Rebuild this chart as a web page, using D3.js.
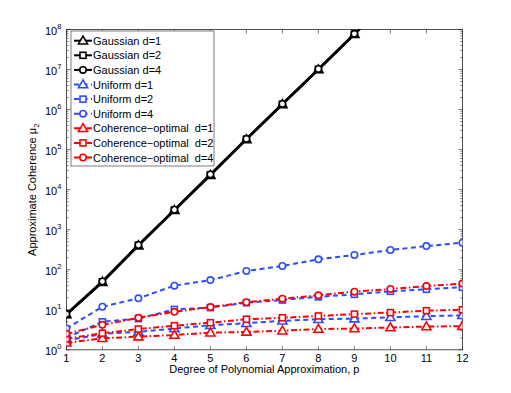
<!DOCTYPE html>
<html>
<head>
<meta charset="utf-8">
<script src="https://cdn.jsdelivr.net/npm/d3@7/dist/d3.min.js"></script>
<style>
body {margin: 0; background: #fff}
text {font-family: "Liberation Sans", Arial, Helvetica, sans-serif}
</style>
</head>
<body>
<div id="canvas"></div>
<script>
// Data
var degrees = [1, 2, 3, 4, 5, 6, 7, 8, 9, 10, 11, 12]
var gaussian_d1 = [7.6, 49, 400, 3050, 23000, 180000, 1.35e6, 1.0e7, 7.6e7, 5.8e8, 4.4e9, 3.3e10]
var gaussian_d2 = [7.7, 50, 410, 3100, 23500, 182000, 1.36e6, 1.01e7, 7.7e7, 5.9e8, 4.5e9, 3.4e10]
var gaussian_d4 = [7.8, 51, 415, 3150, 24000, 185000, 1.38e6, 1.03e7, 7.8e7, 6.0e8, 4.6e9, 3.5e10]
var uniform_d1 = [1.7, 2.5, 2.8, 3.4, 4.1, 4.6, 5.3, 5.8, 6.0, 6.5, 6.9, 7.3]
var uniform_d2 = [2.0, 5.0, 6.0, 10.2, 11.3, 15, 17.5, 21, 24.3, 28.9, 32.4, 36.5]
var uniform_d4 = [3.4, 11.9, 19.3, 40, 55, 93, 124, 182, 233, 311, 390, 473]
var coh_d1 = [1.5, 1.94, 2.13, 2.34, 2.67, 2.8, 3.0, 3.3, 3.4, 3.6, 3.8, 3.9]
var coh_d2 = [1.9, 2.6, 3.3, 4.0, 4.75, 5.8, 6.3, 7.0, 7.8, 8.5, 9.5, 10]
var coh_d4 = [2.5, 4.2, 6.3, 8.9, 11.7, 15.4, 18.9, 23, 28.3, 33, 39, 45]
var x_ticks = [1, 2, 3, 4, 5, 6, 7, 8, 9, 10, 11, 12]
var y_exponents = [0, 1, 2, 3, 4, 5, 6, 7, 8]

// Display variables
var total_width = 511, total_height = 393
var margin = {top: 29.5, left: 66.4}
var width = 396, height = 320.3
var blue = "#2b4cff", red = "#ff0000", black = "#000000"
var tick_len = 4

var series = [
    {name: "Gaussian d=1", values: gaussian_d1, colour: black, dash: null, marker: "triangle", lw: 2.4},
    {name: "Gaussian d=2", values: gaussian_d2, colour: black, dash: null, marker: "square", lw: 2.4},
    {name: "Gaussian d=4", values: gaussian_d4, colour: black, dash: null, marker: "circle", lw: 2.4},
    {name: "Uniform d=1", values: uniform_d1, colour: blue, dash: "5,3.5", marker: "triangle", lw: 2},
    {name: "Uniform d=2", values: uniform_d2, colour: blue, dash: "5,3.5", marker: "square", lw: 2},
    {name: "Uniform d=4", values: uniform_d4, colour: blue, dash: "5,3.5", marker: "circle", lw: 2},
    {name: "Coherence\u2212optimal  d=1", values: coh_d1, colour: red, dash: "6,2.5,1.5,2.5", marker: "triangle", lw: 2},
    {name: "Coherence\u2212optimal  d=2", values: coh_d2, colour: red, dash: "6,2.5,1.5,2.5", marker: "square", lw: 2},
    {name: "Coherence\u2212optimal  d=4", values: coh_d4, colour: red, dash: "6,2.5,1.5,2.5", marker: "circle", lw: 2}
]

var svg_outer = d3.select("#canvas").append("svg").attr("width", total_width).attr("height", total_height)
svg_outer.append("rect").attr("width", total_width).attr("height", total_height).attr("fill", "#fff")
var svg = svg_outer.append("g").attr("transform", "translate(" + margin.left + "," + margin.top + ")")

svg.append("defs").append("clipPath").attr("id", "clip")
    .append("rect").attr("x", 0).attr("y", 0).attr("width", width).attr("height", height)

// Scales
var x = d3.scaleLinear().domain([1, 12]).range([0, width])
var y = d3.scaleLog().domain([1, 1e8]).range([height, 0])

// Axes box and ticks
var axis_colour = "#262626"
var ticks_g = svg.append("g").attr("stroke", axis_colour).attr("stroke-width", 0.6)
x_ticks.forEach(function(t) {
    ticks_g.append("line").attr("x1", x(t)).attr("x2", x(t)).attr("y1", height).attr("y2", height - tick_len)
    ticks_g.append("line").attr("x1", x(t)).attr("x2", x(t)).attr("y1", 0).attr("y2", tick_len)
})
y_exponents.forEach(function(e) {
    for (var m = 1; m <= 9; m++) {
        if (e == 8 && m > 1) break
        var v = m * Math.pow(10, e)
        var len = m == 1 ? tick_len : tick_len * 0.5
        ticks_g.append("line").attr("x1", 0).attr("x2", len).attr("y1", y(v)).attr("y2", y(v))
        ticks_g.append("line").attr("x1", width).attr("x2", width - len).attr("y1", y(v)).attr("y2", y(v))
    }
})
svg.append("rect").attr("width", width).attr("height", height)
    .attr("fill", "none").attr("stroke", axis_colour).attr("stroke-width", 0.8)

// Tick labels
svg.selectAll(".xlab").data(x_ticks).enter().append("text")
    .attr("x", d => x(d)).attr("y", height + 12)
    .attr("text-anchor", "middle").attr("font-size", 11).attr("fill", "#000")
    .text(d => d)
var ylab = svg.selectAll(".ylab").data(y_exponents).enter().append("text")
    .attr("x", -5).attr("y", d => y(Math.pow(10, d)) + 5)
    .attr("text-anchor", "end").attr("font-size", 11).attr("fill", "#000")
ylab.append("tspan").text("10")
ylab.append("tspan").attr("dy", -6).attr("font-size", 7.5).text(d => d)

// Axis labels
svg.append("text")
    .attr("x", width / 2).attr("y", height + 23)
    .attr("text-anchor", "middle").attr("font-size", 11).text("Degree of Polynomial Approximation, p")
var ylabel = svg.append("text")
    .attr("transform", "translate(" + (-30) + "," + (height / 2) + ") rotate(-90)")
    .attr("text-anchor", "middle").attr("font-size", 11)
ylabel.append("tspan").text("Approximate Coherence  \u03bc")
ylabel.append("tspan").attr("dy", 3).attr("font-size", 8).text("2")

// Marker drawing
var tri = d3.symbol().type(d3.symbolTriangle).size(36)
function draw_marker(g, kind, cx, cy, colour, lw) {
    var m
    if (kind == "circle") {
        m = g.append("circle").attr("cx", cx).attr("cy", cy).attr("r", 3.2)
    } else if (kind == "square") {
        m = g.append("rect").attr("x", cx - 3).attr("y", cy - 3).attr("width", 6).attr("height", 6)
    } else {
        m = g.append("path").attr("d", tri()).attr("transform", "translate(" + cx + "," + (cy + 0.6) + ")")
    }
    m.attr("fill", "#fff").attr("stroke", colour).attr("stroke-width", lw)
}

// Data lines and markers
var plot_g = svg.append("g").attr("clip-path", "url(#clip)")
var line = d3.line().x((d, i) => x(degrees[i])).y(d => y(d))
series.forEach(function(s) {
    var g = plot_g.append("g")
    g.append("path").attr("d", line(s.values))
        .attr("fill", "none").attr("stroke", s.colour).attr("stroke-width", s.lw)
        .attr("stroke-dasharray", s.dash)
    s.values.forEach(function(v, i) {
        if (v <= 1e8) draw_marker(g, s.marker, x(degrees[i]), y(v), s.colour, 1.6)
    })
})

// Legend
var leg = svg_outer.append("g").attr("transform", "translate(71,31)")
leg.append("rect").attr("width", 143).attr("height", 135)
    .attr("fill", "#fff").attr("stroke", axis_colour).attr("stroke-width", 0.6)
series.forEach(function(s, i) {
    var ly = 9.7 + i * 14.6
    leg.append("line").attr("x1", 3).attr("x2", 21).attr("y1", ly).attr("y2", ly)
        .attr("stroke", s.colour).attr("stroke-width", 2).attr("stroke-dasharray", s.dash)
    draw_marker(leg, s.marker, 12, ly, s.colour, 1.6)
    leg.append("text").attr("x", 22).attr("y", ly + 4).attr("font-size", 11)
        .style("white-space", "pre").text(s.name)
})
</script>
</body>
</html>
